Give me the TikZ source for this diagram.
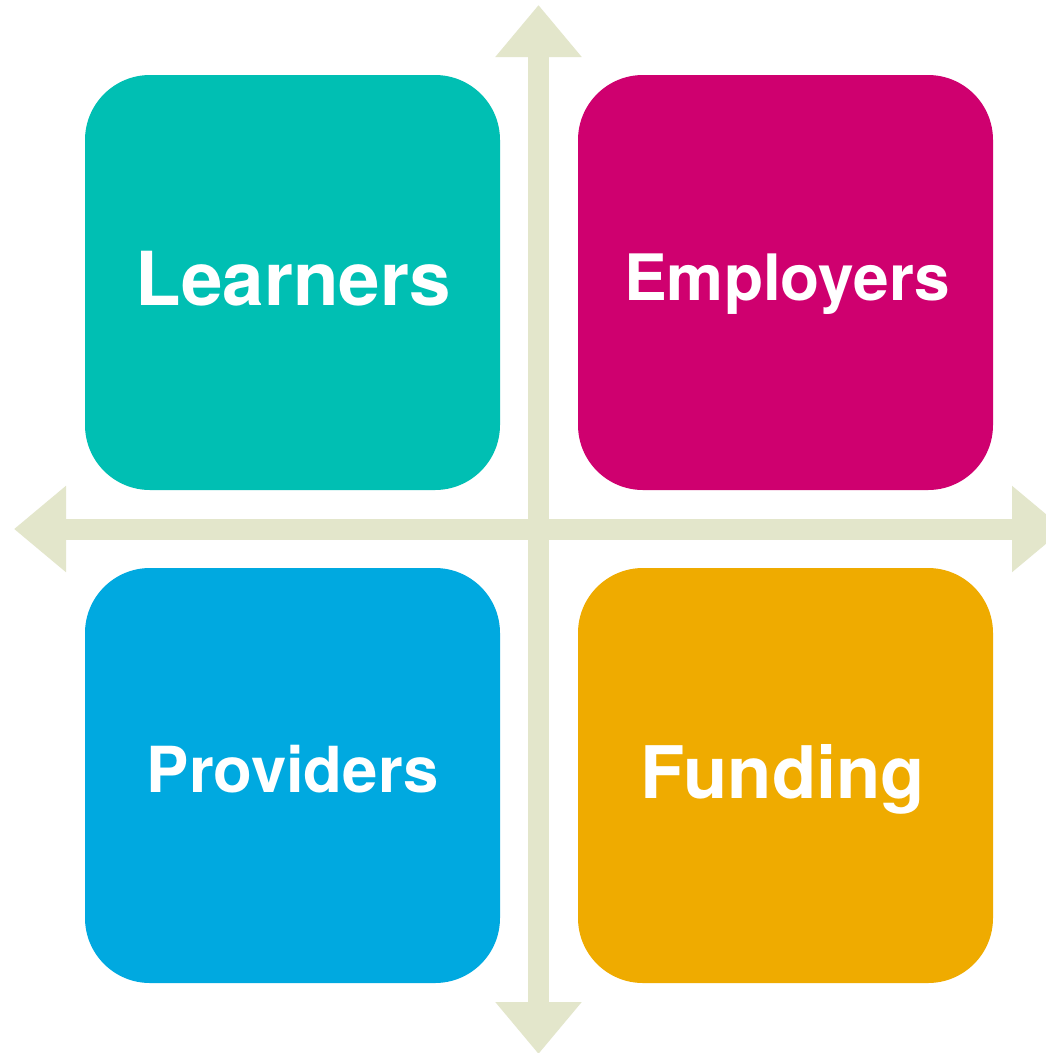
\documentclass[tikz,border=0pt]{standalone}
\usepackage{fontspec}
\setmainfont{TeX Gyre Heros}
\usepackage{tikz}
\usetikzlibrary{arrows.meta,positioning}
\definecolor{learnercol}{RGB}{0,191,179}
\definecolor{employercol}{RGB}{207,0,111}
\definecolor{providercol}{RGB}{0,169,224}
\definecolor{fundingcol}{RGB}{239,171,0}
\definecolor{axiscol}{RGB}{227,230,203}
\tikzset{
    %Define style for boxes
    quad/.style={
           rectangle,
           rounded corners=65pt,
           minimum width=415pt,
           minimum height=415pt,
           inner sep=0pt,
           },
    %Define style for box texts
    quadtext/.style={
           anchor=base,
           inner sep=0pt,
           text=white,
           font=\bfseries,
           },
    % Define arrow style
    axis/.style={
           {Triangle[length=52pt,width=83pt]}-{Triangle[length=52pt,width=83pt]},
           line width=21pt,
           draw=axiscol,
           fill=axiscol,
           },
}
\begin{document}
\begin{tikzpicture}[x=1pt,y=-1pt]
\useasboundingbox (0,0) rectangle (1045,1053);
\fill[white] (0,0) rectangle (1045,1053);
% quadrants
\node[quad, fill=learnercol](learners) at (292.5,282.5){};
\node[quad, fill=employercol](employers) at (785.5,282.5){};
\node[quad, fill=providercol](providers) at (292.5,775.5){};
\node[quad, fill=fundingcol](funding) at (785.5,775.5){};
% texts
\node[quadtext, font=\fontsize{74.5}{74.5}\bfseries](learnerslbl) at (293.5,305){Learners};
\node[quadtext, font=\fontsize{64}{64}\bfseries](employerslbl) at (787,300){Employers};
\node[quadtext, font=\fontsize{63.5}{63.5}\bfseries](providerslbl) at (292.5,792){Providers};
\node[quadtext, font=\fontsize{72.5}{72.5}\bfseries](fundinglbl) at (783,798){Funding};
% axes
\coordinate (top) at (538.5,5);
\coordinate (bottom) at (538.5,1054);
\coordinate (left) at (14,529);
\coordinate (right) at (1064,529);
\draw[axis] (bottom) -- (top);
\draw[axis] (left) -- (right);
\end{tikzpicture}
\end{document}
